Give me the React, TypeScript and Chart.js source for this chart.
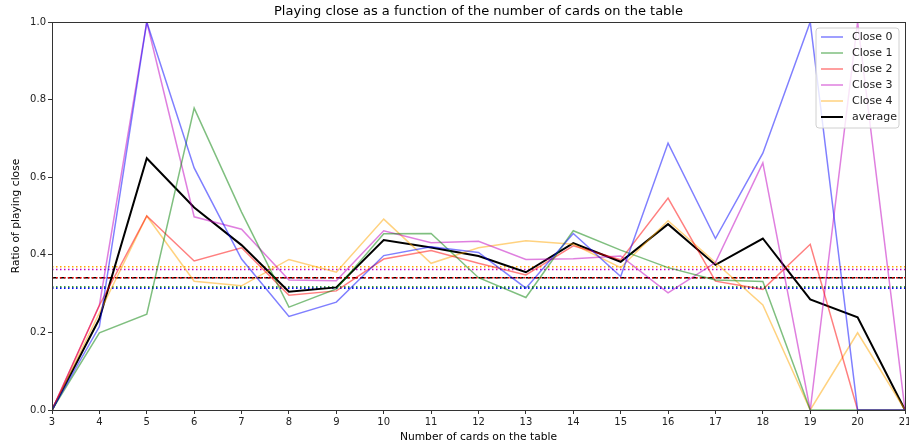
import React, { useEffect, useRef } from "react";
import { Chart, registerables } from "chart.js";

Chart.register(...registerables);

const cards = [3, 4, 5, 6, 7, 8, 9, 10, 11, 12, 13, 14, 15, 16, 17, 18, 19, 20, 21];
const close0 = [0, 0.215, 1.0, 0.624, 0.389, 0.241, 0.278, 0.398, 0.421, 0.406, 0.314, 0.455, 0.344, 0.688, 0.442, 0.662, 1.0, 0, 0];
const close1 = [0, 0.199, 0.247, 0.778, 0.51, 0.265, 0.312, 0.454, 0.455, 0.341, 0.29, 0.462, 0.412, 0.367, 0.335, 0.331, 0, 0, 0];
const close2 = [0, 0.27, 0.5, 0.384, 0.418, 0.296, 0.307, 0.389, 0.411, 0.378, 0.348, 0.423, 0.387, 0.546, 0.332, 0.311, 0.427, 0, 0];
const close3 = [0, 0.27, 1.0, 0.498, 0.466, 0.335, 0.333, 0.462, 0.431, 0.435, 0.388, 0.39, 0.397, 0.302, 0.38, 0.637, 0, 1.0, 0];
const close4 = [0, 0.25, 0.5, 0.332, 0.32, 0.388, 0.355, 0.492, 0.378, 0.418, 0.436, 0.427, 0.367, 0.488, 0.38, 0.271, 0, 0.199, 0];
const average = [0, 0.235, 0.649, 0.522, 0.425, 0.305, 0.316, 0.438, 0.419, 0.397, 0.355, 0.43, 0.382, 0.479, 0.374, 0.442, 0.285, 0.239, 0];
const seriesLabels = ["Close 0", "Close 1", "Close 2", "Close 3", "Close 4", "average"];
const seriesColors = [
  "rgba(0,0,255,0.5)",
  "rgba(0,128,0,0.5)",
  "rgba(255,0,0,0.5)",
  "rgba(191,0,191,0.5)",
  "rgba(255,165,0,0.5)",
  "#000000",
];
const meanValues = [0.314, 0.317, 0.341, 0.362, 0.369, 0.341];
const meanColors = ["#0000ff", "#008000", "#ff0000", "#bf00bf", "#ffa500", "#000000"];
const yTicks = [0, 0.2, 0.4, 0.6, 0.8, 1.0];
const titleText = "Playing close as a function of the number of cards on the table";

const FONT = "'DejaVu Sans', sans-serif";

const framePlugin = {
  id: "frame",
  afterDatasetsDraw(chart: any) {
    const { ctx, chartArea: a } = chart;
    ctx.save();
    ctx.strokeStyle = "#333";
    ctx.lineWidth = 1;
    ctx.strokeRect(Math.round(a.left) + 0.5, Math.round(a.top) + 0.5, Math.round(a.right - a.left), Math.round(a.bottom - a.top));
    ctx.restore();
  },
};

const titlePlugin = {
  id: "mplTitle",
  afterDraw(chart: any) {
    const { ctx, chartArea: a } = chart;
    ctx.save();
    ctx.font = `13px ${FONT}`;
    ctx.fillStyle = "#000";
    ctx.textAlign = "center";
    ctx.textBaseline = "middle";
    ctx.fillText(titleText, (a.left + a.right) / 2, 12);
    ctx.restore();
  },
};

const legendPlugin = {
  id: "mplLegend",
  afterDraw(chart: any) {
    const { ctx, chartArea: a } = chart;
    const items = chart.data.datasets.filter((d: any) => d.inLegend);
    const rowH = 16;
    const boxW = 83;
    const boxH = items.length * rowH + 4;
    const x0 = a.right - boxW - 6;
    const y0 = a.top + 6;
    ctx.save();
    ctx.beginPath();
    const r = 3;
    ctx.moveTo(x0 + r, y0);
    ctx.arcTo(x0 + boxW, y0, x0 + boxW, y0 + boxH, r);
    ctx.arcTo(x0 + boxW, y0 + boxH, x0, y0 + boxH, r);
    ctx.arcTo(x0, y0 + boxH, x0, y0, r);
    ctx.arcTo(x0, y0, x0 + boxW, y0, r);
    ctx.closePath();
    ctx.fillStyle = "rgba(255,255,255,0.8)";
    ctx.fill();
    ctx.strokeStyle = "#d0d0d0";
    ctx.lineWidth = 1;
    ctx.stroke();
    ctx.font = `11px ${FONT}`;
    ctx.textBaseline = "middle";
    items.forEach((d: any, i: number) => {
      const yy = y0 + 9 + i * rowH;
      ctx.beginPath();
      ctx.strokeStyle = d.borderColor;
      ctx.lineWidth = d.borderWidth;
      ctx.moveTo(x0 + 5, yy);
      ctx.lineTo(x0 + 27, yy);
      ctx.stroke();
      ctx.fillStyle = "#222";
      ctx.fillText(d.label, x0 + 36, yy);
    });
    ctx.restore();
  },
};

export default function App() {
  const ref = useRef<HTMLCanvasElement>(null);
  useEffect(() => {
    const series = [close0, close1, close2, close3, close4, average];
    const datasets: any[] = [];
    series.forEach((vals, i) => {
      datasets.push({
        label: seriesLabels[i],
        inLegend: true,
        data: cards.map((c, j) => ({ x: c, y: vals[j] })),
        borderColor: seriesColors[i],
        borderWidth: i === 5 ? 2 : 1.5,
        pointRadius: 0,
        fill: false,
        tension: 0,
      });
    });
    meanValues.forEach((m, i) => {
      datasets.push({
        label: "mean " + seriesLabels[i],
        inLegend: false,
        data: [
          { x: cards[0], y: m },
          { x: cards[cards.length - 1], y: m },
        ],
        borderColor: meanColors[i],
        borderWidth: 1.5,
        borderDash: i === 5 ? [5.5, 2.4] : [1.5, 2.5],
        pointRadius: 0,
        fill: false,
      });
    });
    const chart = new Chart(ref.current!, {
      type: "line",
      data: { datasets },
      plugins: [framePlugin, legendPlugin, titlePlugin],
      options: {
        animation: false,
        responsive: false,
        maintainAspectRatio: false,
        layout: { padding: { left: 0, right: 0, top: 22, bottom: 0 } },
        plugins: {
          legend: { display: false },
          tooltip: { enabled: false },
          title: { display: false },
        },
        scales: {
          x: {
            type: "linear",
            min: 3,
            max: 21,
            afterBuildTicks: (s: any) => {
              s.ticks = cards.map((v) => ({ value: v }));
            },
            afterFit: (s: any) => {
              s.height = 38;
              s.paddingRight = 4;
              s.paddingLeft = 0;
            },
            ticks: {
              color: "#222",
              font: { family: FONT, size: 10 },
              padding: 2,
              autoSkip: false,
              maxRotation: 0,
              callback: (v: any) => String(v),
            },
            grid: { drawOnChartArea: false, drawTicks: true, tickLength: 4, color: "#333" },
            border: { display: false },
            title: {
              display: true,
              text: "Number of cards on the table",
              color: "#000",
              font: { family: FONT, size: 10.7 },
              padding: { top: 0, bottom: 4 },
            },
          },
          y: {
            type: "linear",
            min: 0,
            max: 1,
            afterBuildTicks: (s: any) => {
              s.ticks = yTicks.map((v) => ({ value: v }));
            },
            afterFit: (s: any) => {
              s.width = 52;
              s.paddingTop = 0;
              s.paddingBottom = 0;
            },
            ticks: {
              color: "#222",
              font: { family: FONT, size: 10 },
              padding: 2,
              callback: (v: any) => Number(v).toFixed(1),
            },
            grid: { drawOnChartArea: false, drawTicks: true, tickLength: 4, color: "#333" },
            border: { display: false },
            title: {
              display: true,
              text: "Ratio of playing close",
              color: "#000",
              font: { family: FONT, size: 10.7 },
              padding: { top: 10, bottom: 0 },
            },
          },
        },
      } as any,
    });
    return () => chart.destroy();
  }, []);
  return (
    <div style={{ position: "fixed", left: 0, top: 0, width: 909, height: 448, background: "#fff" }}>
      <canvas ref={ref} width={909} height={448} style={{ display: "block" }} />
    </div>
  );
}
